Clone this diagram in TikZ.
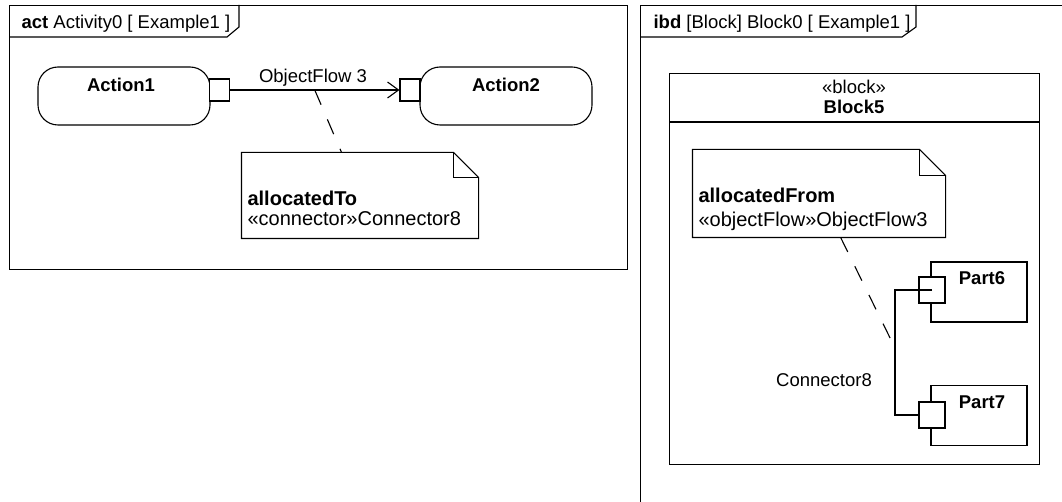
\documentclass[tikz,border=0pt]{standalone}
\usepackage{fontspec}
\setmainfont{Liberation Sans}
\usetikzlibrary{arrows.meta,calc}
\newcommand\umlnotefold[2]{%
  \draw (#1.north west) -- ([xshift=-#2pt]#1.north east) -- ([yshift=-#2pt]#1.north east)
        -- (#1.south east) -- (#1.south west) -- cycle;
  \draw ([xshift=-#2pt]#1.north east) |- ([yshift=-#2pt]#1.north east);}
\begin{document}
\begin{tikzpicture}[x=1pt,y=-1pt,line width=1.1pt,
  frame/.style={draw,line width=1.2pt,anchor=north west,inner sep=0pt},
  action/.style={draw,rounded corners=20pt,minimum width=172pt,minimum height=58pt,inner sep=0pt},
  umlpin/.style={draw,fill=white,minimum width=20pt,minimum height=22pt,inner sep=0pt},
  partpin/.style={draw,fill=white,minimum size=26pt,inner sep=0pt},
  part/.style={draw,minimum width=96pt,minimum height=60pt,inner sep=0pt},
  notebox/.style={inner sep=0pt},
  txt/.style={font=\fontsize{18.5}{20}\selectfont,inner sep=0pt},
  btxt/.style={font=\fontsize{18.5}{20}\selectfont\bfseries,inner sep=0pt},
  ntxt/.style={font=\fontsize{20}{21}\selectfont,inner sep=0pt},
  nbtxt/.style={font=\fontsize{20}{21}\selectfont\bfseries,inner sep=0pt},
  dashline/.style={dash pattern=on 16pt off 16pt},
  flow/.style={-{Straight Barb[length=11pt,width=16pt]}}
]
\useasboundingbox (0,0) rectangle (1062,502);
\clip (0,0) rectangle (1062,502);

% ---------- activity frame ----------
\node[frame,minimum width=618pt,minimum height=264pt] (f1) at (9,5) {};
\draw ([yshift=-32pt]f1.north west) -- ++(218,0) -- ++(12,-10) -- ++(0,-22);
\node[txt,anchor=base west] (h1) at (21,28.5) {\textbf{act}\ Activity0 [ Example1 ]};

\node[action] (a1) at (124,96) {};
\node[btxt,anchor=base] (a1t) at (121,92) {Action1};
\node[action] (a2) at (506,96) {};
\node[btxt,anchor=base] (a2t) at (506,92) {Action2};
\node[umlpin] (p1) at (219.5,90) {};
\node[umlpin] (p2) at (410,90) {};
\draw[flow] (p1.east) -- (p2.west);
\node[txt,anchor=base] (of) at (313,83) {ObjectFlow 3};

\node[notebox,minimum width=236pt,minimum height=85pt] (n1) at (360,195.5) {};
\umlnotefold{n1}{25}
\node[nbtxt,anchor=base west] (n1a) at (247,206) {allocatedTo};
\node[ntxt,anchor=base west] (n1b) at (247,226) {«connector»Connector8};
\coordinate (fm) at ($(p1.east)!0.5!(p2.west)$);
\draw[dashline] (fm) -- (n1);

% ---------- ibd frame ----------
\node[frame,minimum width=450pt,minimum height=520pt] (f2) at (640,5) {};
\draw ([yshift=-32pt]f2.north west) -- ++(262,0) -- ++(14,-10) -- ++(0,-22);
\node[txt,anchor=base west] (h2) at (653,28.5) {\textbf{ibd}\ [Block] Block0 [ Example1 ]};

\node[draw,anchor=north west,minimum width=370pt,minimum height=391pt,inner sep=0pt] (b5) at (669,73) {};
\draw ([yshift=-49pt]b5.north west) -- ([yshift=-49pt]b5.north east);
\node[txt,anchor=base] (b5s) at (854,94) {«block»};
\node[btxt,anchor=base] (b5t) at (854,114) {Block5};

\node[notebox,minimum width=252pt,minimum height=87pt] (n2) at (819,193.5) {};
\umlnotefold{n2}{26}
\node[nbtxt,anchor=base west] (n2a) at (698,203) {allocatedFrom};
\node[ntxt,anchor=base west] (n2b) at (698,227) {«objectFlow»ObjectFlow3};

\node[part] (pt6) at (979,292) {};
\node[btxt,anchor=base] (pt6t) at (982,284.5) {Part6};
\node[part] (pt7) at (979,415.5) {};
\node[btxt,anchor=base] (pt7t) at (982,408.5) {Part7};
\node[partpin] (pp6) at (932,290) {};
\node[partpin] (pp7) at (932,415) {};
\draw (pp6.center) -- ([xshift=-37pt]pp6.center) |- (pp7.west);
\coordinate (cj) at (895,348);
\draw[dashline] (n2) -- (cj);
\node[txt,anchor=base] (c8) at (824,386.5) {Connector8};
\end{tikzpicture}
\end{document}
